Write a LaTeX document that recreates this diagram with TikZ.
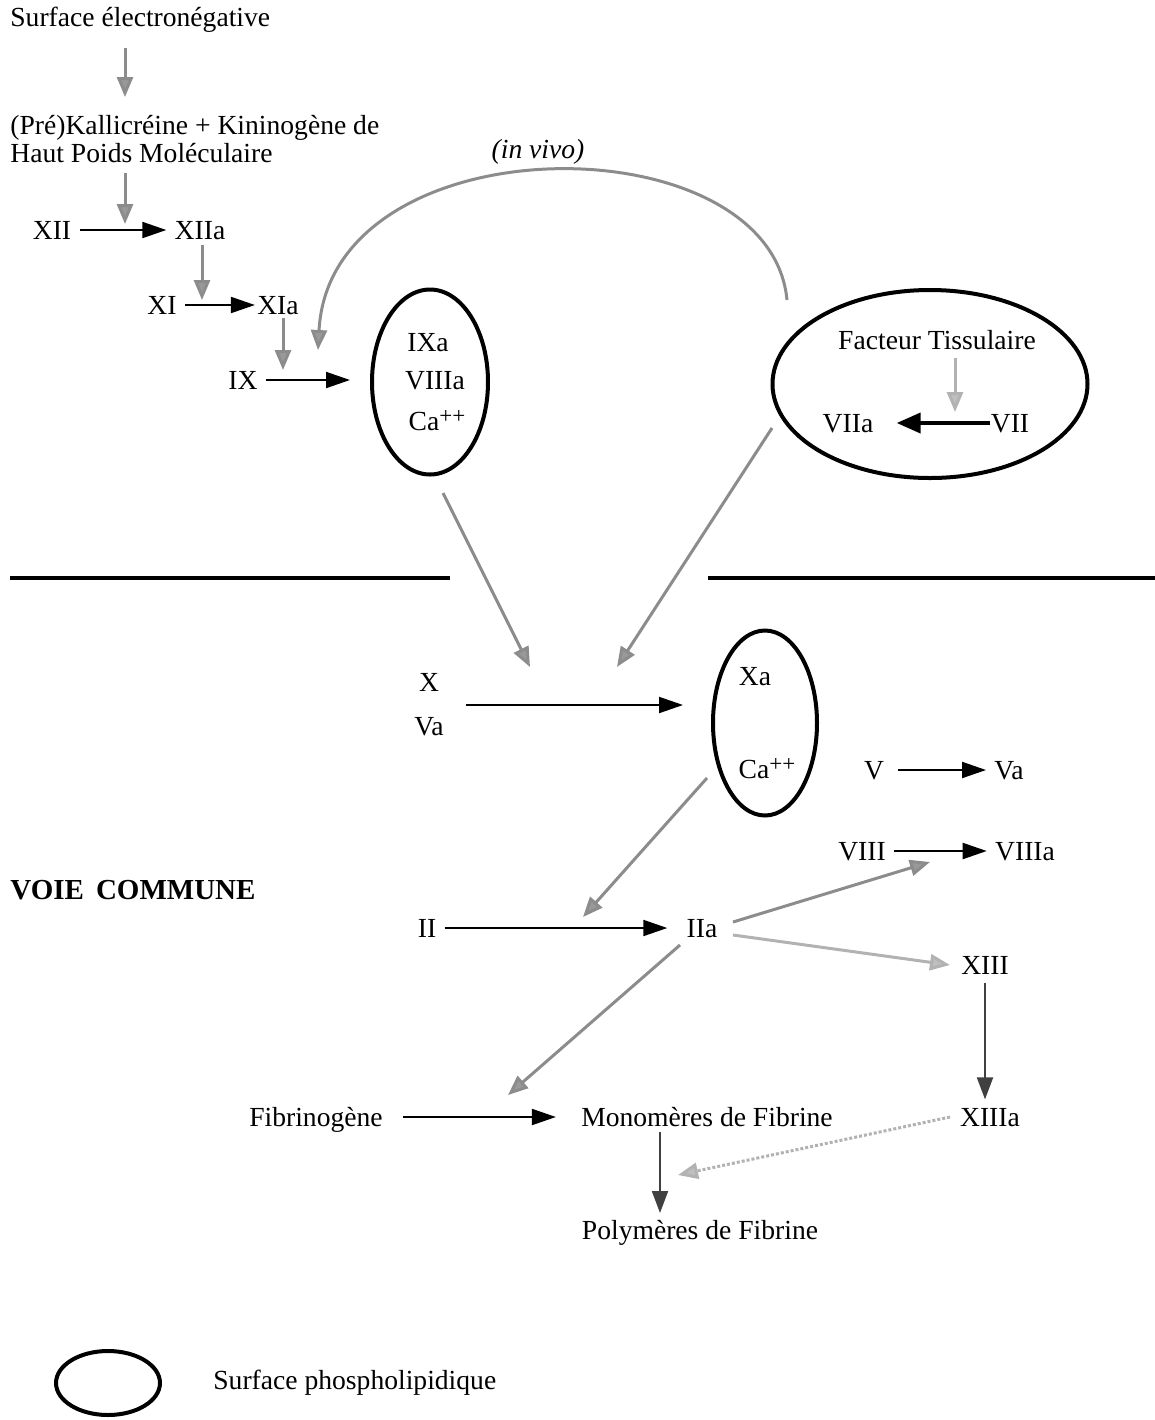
\documentclass[tikz,border=0pt]{standalone}
\usepackage{fontspec}
\setmainfont{Liberation Serif}
\usetikzlibrary{arrows.meta,shapes.geometric}
\newcommand{\capp}{Ca\raisebox{0.55ex}{\fontsize{11.5}{11.5}\selectfont++}}
\begin{document}
\begin{tikzpicture}[x=0.5pt,y=-0.5pt,
  font=\fontsize{13.8}{14}\selectfont,
  lbl/.style={inner sep=4pt, text height=9.2pt, text depth=0pt},
  blk/.style={draw=black, line width=1pt, -{Triangle[length=12pt,width=8pt]}},
  blkthick/.style={draw=black, line width=2pt, -{Triangle[length=12pt,width=10pt]}},
  dgry/.style={draw=black!75, line width=1pt, -{Triangle[length=11pt,width=8pt]}},
  gry/.style={draw=black!45, line width=1.5pt, -{Triangle[length=10pt,width=8pt,fill=black!40]}},
  lgry/.style={draw=black!30, line width=1.5pt, -{Triangle[length=10pt,width=8pt,fill=black!25]}},
  oval/.style={draw=black, ellipse, line width=2pt, inner sep=0pt},
  divider/.style={draw=black, line width=1.6pt}]
\useasboundingbox (0,0) rectangle (1155,1420);

% --- intrinsic pathway texts
\node[inner sep=0pt, anchor=west] (SE) at (10,20) {Surface électronégative};
\node[inner sep=0pt, anchor=west, align=left] (PK) at (10,139) {(Pré)Kallicréine + Kininogène de\\Haut Poids Moléculaire};
\node[lbl] (XII) at (52,230) {XII};
\node[lbl] (XIIa) at (200,230) {XIIa};
\node[lbl] (XI) at (162,305) {XI};
\node[lbl] (XIa) at (278,305) {XIa};
\node[lbl] (IX) at (243,380) {IX};

% --- complex 1
\node[oval, minimum width=58pt, minimum height=92.5pt] (E1) at (430,382) {};
\node[lbl] (IXa) at (428,342) {IXa};
\node[lbl] (VIIIa1) at (435,380) {VIIIa};
\node[lbl] (Ca1) at (437,421) {\capp};

% --- extrinsic complex
\node[oval, minimum width=157.5pt, minimum height=94pt] (E2) at (930,384) {};
\node[lbl] (FT) at (937,340) {Facteur Tissulaire};
\node[lbl] (VIIa) at (848,423) {VIIa};
\node[lbl] (VII) at (1010,423) {VII};
\node[font=\fontsize{13.8}{14}\itshape] (invivo) at (538,152) {(in vivo)};

% --- common pathway
\node[inner sep=4pt, align=center] (XVa) at (429,705) {X\\[8pt]Va};
\node[oval, minimum width=52pt, minimum height=92.5pt] (E3) at (765,723) {};
\node[lbl] (Xa) at (755,676) {Xa};
\node[lbl] (Ca3) at (767,769) {\capp};
\node[lbl] (V) at (874,770) {V};
\node[lbl] (Va) at (1009,770) {Va};
\node[lbl] (VIII) at (862,851) {VIII};
\node[lbl] (VIIIa) at (1025,851) {VIIIa};
\node[inner sep=0pt, anchor=west, font=\fontsize{14.5}{15}\bfseries] (VC) at (10,890) {VOIE\, COMMUNE};
\node[lbl] (II) at (427,928) {II};
\node[lbl] (IIa) at (702,928) {IIa};
\node[lbl] (XIII) at (985,965) {XIII};
\node[lbl] (XIIIa) at (990,1117) {XIIIa};
\node[lbl] (Fib) at (316,1117) {Fibrinogène};
\node[lbl] (Mono) at (707,1117) {Monomères de Fibrine};
\node[lbl] (Poly) at (700,1230) {Polymères de Fibrine};

% --- legend
\node[oval, minimum width=52pt, minimum height=32pt] (E4) at (108,1383) {};
\node[inner sep=0pt, anchor=west] (SP) at (213,1383) {Surface phospholipidique};

% --- coordinates for free ends
\coordinate (a1s) at (125,48);  \coordinate (a1e) at (125,97);
\coordinate (a2s) at (125,173); \coordinate (a2e) at (125,224);
\coordinate (a3s) at (202,245); \coordinate (a3e) at (202,300);
\coordinate (a4s) at (283,318); \coordinate (a4e) at (283,370);
\coordinate (cvs) at (787,300); \coordinate (cve) at (318,350);
\coordinate (a5s) at (955,358); \coordinate (a5e) at (955,412);
\coordinate (b1s) at (443,493); \coordinate (b1e) at (530,667);
\coordinate (b2s) at (772,428); \coordinate (b2e) at (617,667);
\coordinate (b3s) at (707,778); \coordinate (b3e) at (583,917);
\coordinate (c1s) at (733,922); \coordinate (c1e) at (930,862);
\coordinate (c2s) at (733,935); \coordinate (c2e) at (950,965);
\coordinate (c3s) at (680,945); \coordinate (c3e) at (508,1095);
\coordinate (d1s) at (950,1117); \coordinate (d1e) at (678,1175);
\coordinate (mps) at (660,1132); \coordinate (mpe) at (660,1213);
\coordinate (L1a) at (10,578);  \coordinate (L1b) at (450,578);
\coordinate (L2a) at (708,578); \coordinate (L2b) at (1155,578);

% --- gray activation arrows
\draw[gry] (a1s) -- (a1e);
\draw[gry] (a2s) -- (a2e);
\draw[gry] (a3s) -- (a3e);
\draw[gry] (a4s) -- (a4e);
\draw[gry] (cvs) .. controls (770,120) and (330,120) .. (cve);
\draw[lgry] (a5s) -- (a5e);
\draw[gry] (b1s) -- (b1e);
\draw[gry] (b2s) -- (b2e);
\draw[gry] (b3s) -- (b3e);
\draw[gry] (c1s) -- (c1e);
\draw[lgry] (c2s) -- (c2e);
\draw[gry] (c3s) -- (c3e);
\draw[lgry, densely dotted] (d1s) -- (d1e);

% --- black conversion arrows
\draw[blk] (XII) -- (XIIa);
\draw[blk, shorten >=-3pt] (XI) -- (XIa);
\draw[blk, shorten >=10pt] (IX) -- (IX -| E1.west);
\draw[blkthick, shorten <=-4pt, shorten >=7.5pt] (VII) -- (VIIa);
\draw[blk, shorten <=7pt, shorten >=14pt] (XVa.east) -- (XVa.east -| E3.west);
\draw[blk, shorten <=3pt] (V) -- (Va);
\draw[blk] (VIII) -- (VIIIa);
\draw[blk, shorten >=5.5pt] (II) -- (IIa);
\draw[blk, shorten <=6pt, shorten >=8.5pt] (Fib) -- (Mono);
\draw[dgry] (XIII.south) -- (XIII.south |- XIIIa.north);
\draw[dgry] (mps) -- (mpe);

% --- dividers
\draw[divider] (L1a) -- (L1b);
\draw[divider] (L2a) -- (L2b);
\end{tikzpicture}
\end{document}
